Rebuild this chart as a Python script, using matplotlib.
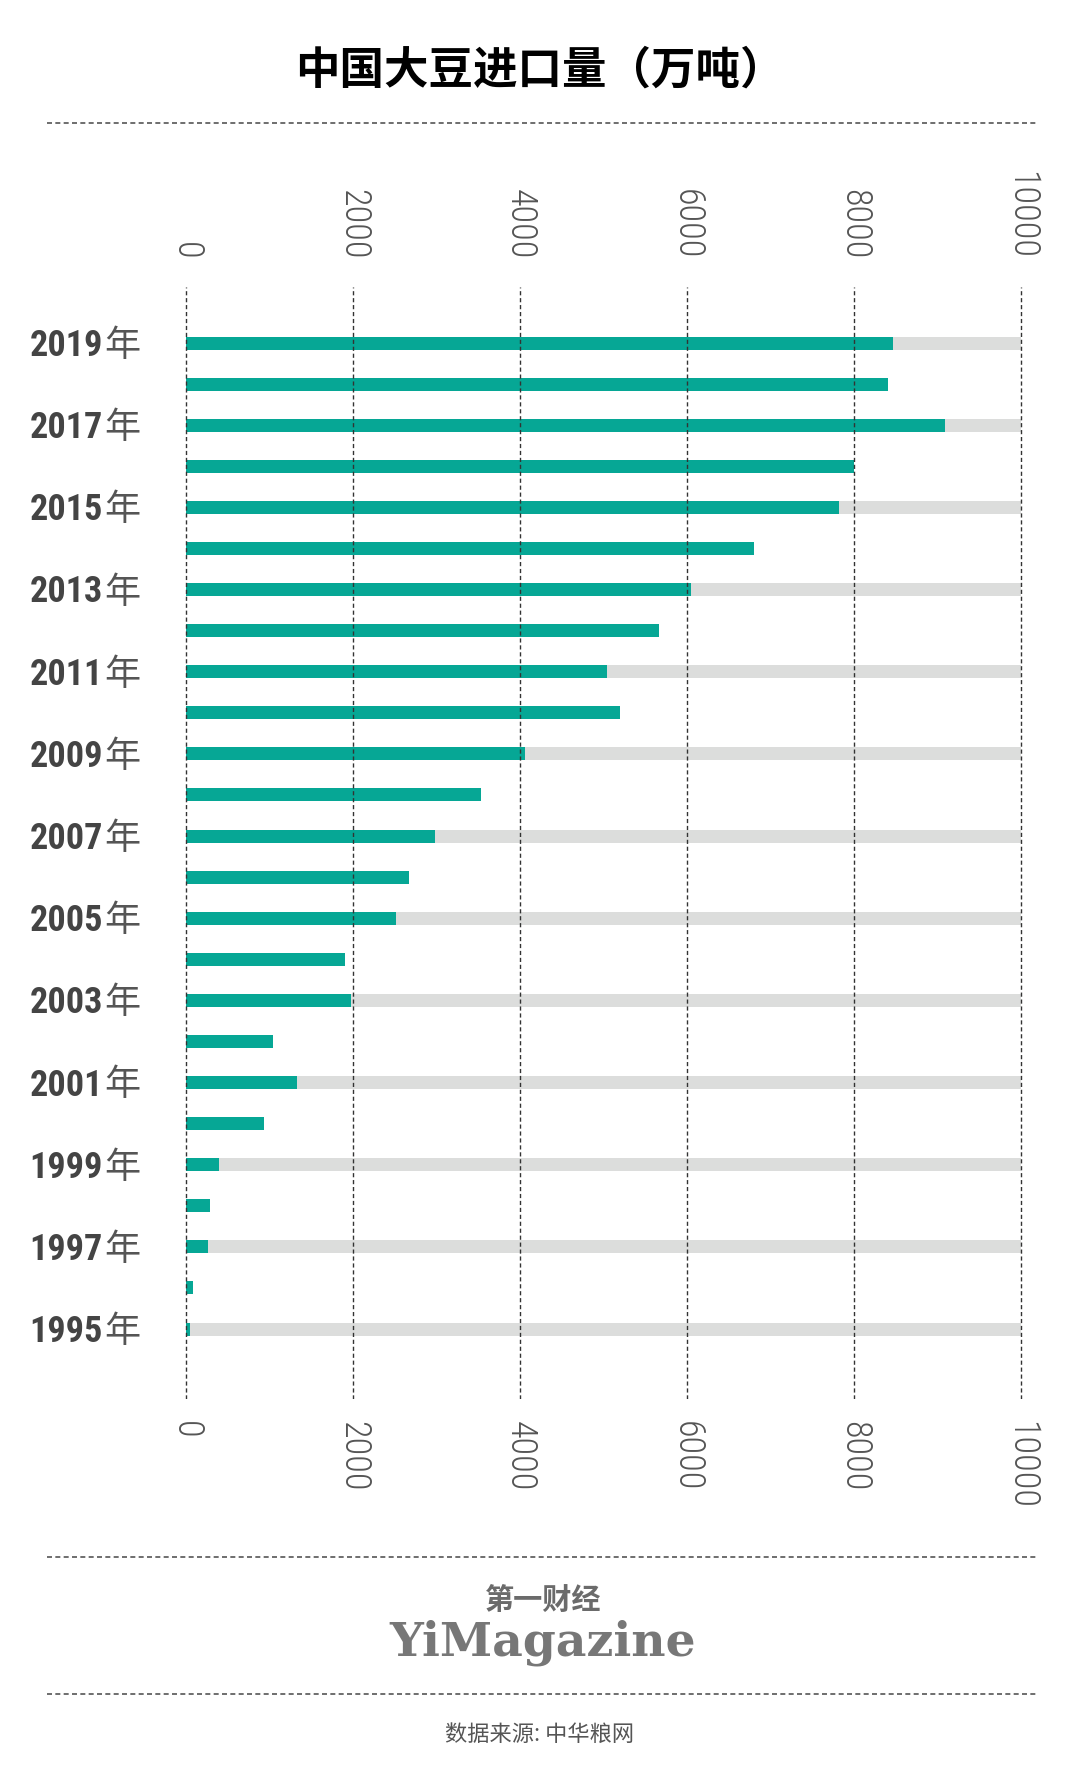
#!/usr/bin/env python3

# Import modules.
import matplotlib
matplotlib.use("Agg")
import matplotlib.pyplot as plt
import matplotlib.transforms as mtrans
from matplotlib import font_manager
from matplotlib.lines import Line2D

# Chart data: China soybean imports (10k tonnes).
Years = list(range(1995, 2020))
Imports = [45, 82, 259, 288, 395, 932, 1327, 1042, 1976, 1900,
           2515, 2667, 2986, 3537, 4056, 5198, 5036, 5666, 6052, 6808,
           7819, 8005, 9095, 8407, 8470]
Ticks = [0, 2000, 4000, 6000, 8000, 10000]
Full = 10000
Title = "中国大豆进口量（万吨）"
Source = "数据来源: 中华粮网"

# Pick a narrow font if one is around.
Names = {f.name for f in font_manager.fontManager.ttflist}
Narrow = "DejaVu Sans"
for Name in ["Liberation Sans Narrow", "Roboto Condensed", "Open Sans Condensed", "Roboto"]:
    if Name in Names:
        Narrow = Name
        break
plt.rcParams["font.family"] = ["Noto Sans CJK SC", "DejaVu Sans"]

Teal = "#06a795"
Gray = "#dcdddc"

Fig = plt.figure(figsize=(10.8, 17.91), dpi=100)

# Axes placed so that 0 sits at x=186px, 10000 at x=1021px.
Pad = 40
PxPer = 835 / Full
Left = 186 - Pad * PxPer
Width = (Full + 2 * Pad) * PxPer
Top, Bottom = 287, 1399
Ax = Fig.add_axes([Left / 1080, 1 - Bottom / 1791, Width / 1080, (Bottom - Top) / 1791])

Pos = [Y - 1995 for Y in Years]
Step = (1329 - 343) / 24
BarH = 13 / Step

# Gray track behind every other year.
for P, Y in zip(Pos, Years):
    if (Y - 1995) % 2 == 0:
        Ax.barh(P, Full, height=BarH, color=Gray, zorder=1)
Ax.barh(Pos, Imports, height=BarH, color=Teal, zorder=2)

Ax.set_xlim(-Pad, Full + Pad)
Ax.set_ylim(-(Bottom - 1329) / Step, 24 + (343 - Top) / Step)
Ax.set_xticks(Ticks)
Ax.set_xticklabels([str(T) for T in Ticks])
Ax.set_yticks([])
Ax.grid(axis="x", color="#333333", linestyle=(0, (3, 2)), linewidth=1.0)
Ax.set_axisbelow(False)
for Spine in Ax.spines.values():
    Spine.set_visible(False)

Ax.tick_params(axis="x", top=True, labeltop=True, bottom=True, labelbottom=True,
               length=0, pad=16, labelsize=26, labelcolor="#555555", labelrotation=-90)
Shift = mtrans.ScaledTranslation(0, 4 / 72, Fig.dpi_scale_trans)
for T in Ax.xaxis.get_major_ticks():
    T.label1.set_fontfamily(Narrow)
    T.label2.set_fontfamily(Narrow)
    T.label1.set_fontweight("light")
    T.label2.set_fontweight("light")
    T.label2.set_transform(T.label2.get_transform() + Shift)

# Year labels: bold narrow digits plus a light "年".
Split = 103 - Left  # px from the axes edge where digits stop and 年 starts
for P, Y in zip(Pos, Years):
    if (Y - 1995) % 2 == 0:
        Ax.annotate(str(Y), xy=(0, P), xycoords=("axes fraction", "data"),
                    xytext=(Split, -3), textcoords="offset pixels",
                    ha="right", va="center", fontsize=26, fontweight="bold",
                    color="#444444", family=Narrow)
        Ax.annotate("年", xy=(0, P), xycoords=("axes fraction", "data"),
                    xytext=(Split + 1, -3), textcoords="offset pixels",
                    ha="left", va="center", fontsize=26, color="#555555")

# Title and dashed separators.
Fig.text(0.5, 1 - 71 / 1791, Title, ha="center", va="center",
         fontsize=32, fontweight="bold", color="black")
for Yp in [123, 1557, 1694]:
    Fig.add_artist(Line2D([47 / 1080, 1037 / 1080], [1 - Yp / 1791] * 2,
                          transform=Fig.transFigure, color="#555555",
                          linewidth=1.2, linestyle=(0, (3, 2))))

# Logo and source.
Fig.text(543 / 1080, 1 - 1600 / 1791, "第一财经", ha="center", va="center",
         fontsize=21, fontweight="bold", color="#6b6b6b")
Fig.text(543 / 1080, 1 - 1655 / 1791, "YiMagazine", ha="center", va="baseline",
         fontsize=34, fontweight="bold", color="#777777", family="DejaVu Serif")
Fig.text(540 / 1080, 1 - 1734 / 1791, Source, ha="center", va="center",
         fontsize=16, color="#555555")

Fig.savefig("out.png", dpi=100, facecolor="white")
